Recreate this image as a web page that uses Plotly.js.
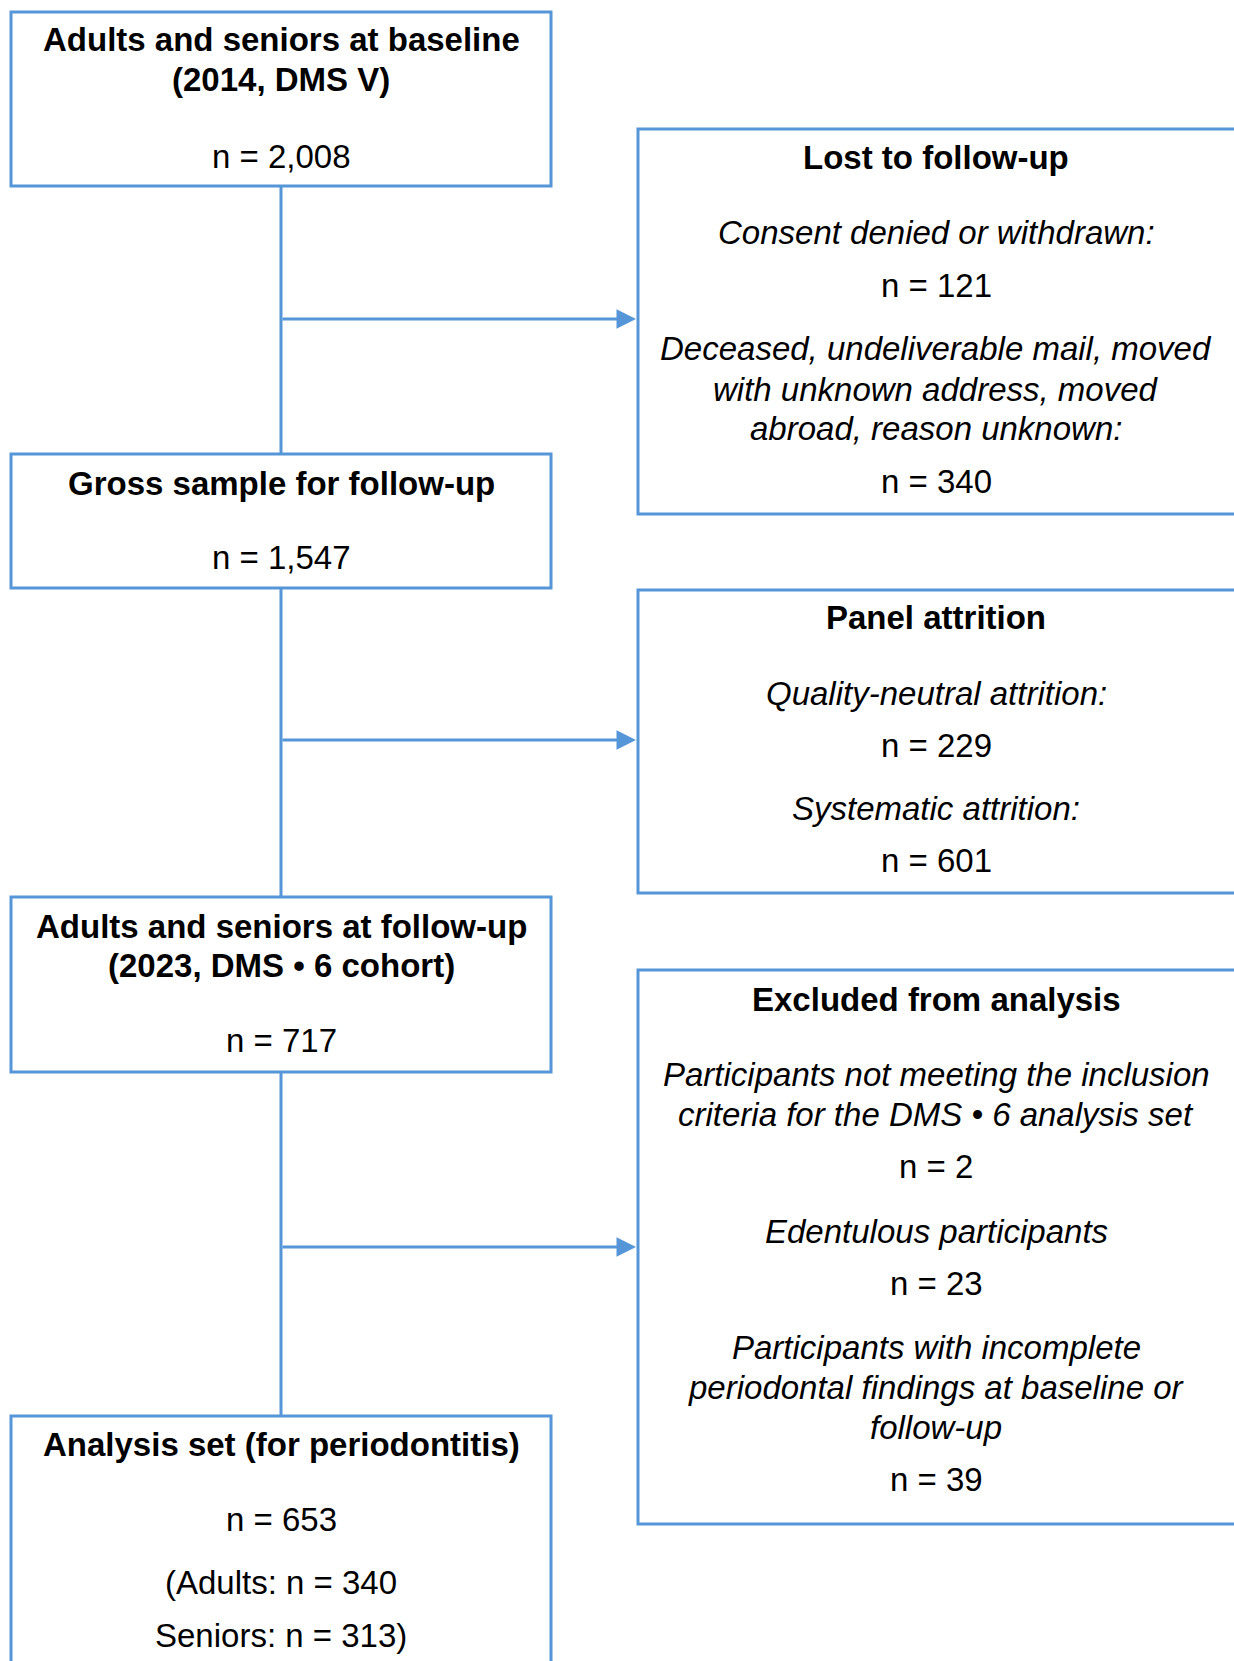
<!DOCTYPE html>
<html>
<head>
<meta charset="utf-8">
<script src="https://cdn.plot.ly/plotly-3.0.1.min.js"></script>
<style>
  html, body { margin: 0; padding: 0; background: #ffffff; }
  #chart { width: 1234px; height: 1661px; }
</style>
</head>
<body>
<div id="chart"></div>
<script>
// ---------- DATA ----------
const mainTitles = [
  "Adults and seniors at baseline|(2014, DMS V)",
  "Gross sample for follow-up",
  "Adults and seniors at follow-up|(2023, DMS • 6 cohort)",
  "Analysis set (for periodontitis)"
];
const mainCounts = [2008, 1547, 717, 653];
const subgroupLabels = ["Adults", "Seniors"];
const subgroupCounts = [340, 313];

const sideTitles = ["Lost to follow-up", "Panel attrition", "Excluded from analysis"];
const sideReasons = [
  ["Consent denied or withdrawn:",
   "Deceased, undeliverable mail, moved|with unknown address, moved|abroad, reason unknown:"],
  ["Quality-neutral attrition:",
   "Systematic attrition:"],
  ["Participants not meeting the inclusion|criteria for the DMS • 6 analysis set",
   "Edentulous participants",
   "Participants with incomplete|periodontal findings at baseline or|follow-up"]
];
const sideCounts = [[121, 340], [229, 601], [2, 23, 39]];

// ---------- LAYOUT (pixel geometry) ----------
const W = 1234, H = 1661;
const BLUE = "#5596D8";
const FONT = "Liberation Sans, Arial, sans-serif";
const FS = 33;
const DY = -0.75; // small vertical text offset

const mainBoxes = [
  {x0: 11, x1: 551, y0: 12, y1: 186, lines: [40, 80.5], nY: 157},
  {x0: 11, x1: 551, y0: 454, y1: 588, lines: [484], nY: 558},
  {x0: 11, x1: 551, y0: 897, y1: 1072, lines: [927, 966], nY: 1041},
  {x0: 11, x1: 551, y0: 1416, y1: 1680, lines: [1445], nY: 1520, subY: [1583, 1636]}
];
const sideBoxes = [
  {x0: 638, x1: 1250, y0: 129, y1: 514, titleY: 158, reasonY: [[233], [349.5, 390, 429]], nY: [286, 482], arrowY: 319},
  {x0: 638, x1: 1250, y0: 590, y1: 893, titleY: 618.6, reasonY: [[694], [809]], nY: [746, 861], arrowY: 740},
  {x0: 638, x1: 1250, y0: 970, y1: 1524, titleY: 1000, reasonY: [[1075, 1115], [1232], [1348, 1388, 1428]], nY: [1167, 1284, 1480], arrowY: 1247}
];
const spineX = 281;
const mainCx = 281, sideCx = 936;

const fmt = v => v.toLocaleString("en-US");
const shapes = [];
const annotations = [];

function txt(x, y, text, style) {
  let t = text;
  if (style === "b") t = "<b>" + text + "</b>";
  if (style === "i") t = "<i>" + text + "</i>";
  annotations.push({
    x: x, y: y + DY, xref: "x", yref: "y", text: t, showarrow: false,
    xanchor: "center", yanchor: "middle",
    font: {family: FONT, size: FS, color: "#000000"}
  });
}

// main boxes
mainTitles.forEach((title, i) => {
  const b = mainBoxes[i];
  shapes.push({type: "rect", xref: "x", yref: "y", x0: b.x0, x1: b.x1, y0: b.y0, y1: b.y1,
    line: {color: BLUE, width: 3}, fillcolor: "rgba(0,0,0,0)"});
  title.split("|").forEach((ln, k) => txt(mainCx, b.lines[k], ln, "b"));
  txt(mainCx, b.nY, "n = " + fmt(mainCounts[i]));
  if (b.subY) {
    txt(mainCx, b.subY[0], "(" + subgroupLabels[0] + ": n = " + fmt(subgroupCounts[0]));
    txt(mainCx, b.subY[1], subgroupLabels[1] + ": n = " + fmt(subgroupCounts[1]) + ")");
  }
  if (i < mainTitles.length - 1) {
    shapes.push({type: "line", xref: "x", yref: "y", x0: spineX, x1: spineX,
      y0: b.y1, y1: mainBoxes[i + 1].y0, line: {color: BLUE, width: 3}});
  }
});

// side boxes
sideTitles.forEach((title, i) => {
  const b = sideBoxes[i];
  shapes.push({type: "rect", xref: "x", yref: "y", x0: b.x0, x1: b.x1, y0: b.y0, y1: b.y1,
    line: {color: BLUE, width: 3}, fillcolor: "rgba(0,0,0,0)"});
  txt(sideCx, b.titleY, title, "b");
  sideReasons[i].forEach((r, j) => {
    r.split("|").forEach((ln, k) => txt(sideCx, b.reasonY[j][k], ln, "i"));
    txt(sideCx, b.nY[j], "n = " + fmt(sideCounts[i][j]));
  });
  annotations.push({
    x: b.x0 - 2, y: b.arrowY, ax: spineX, ay: b.arrowY,
    xref: "x", yref: "y", axref: "x", ayref: "y",
    text: "", showarrow: true, arrowhead: 2, arrowsize: 1.3, arrowwidth: 3,
    arrowcolor: BLUE, standoff: 0, startstandoff: 0
  });
});

const data = [{
  x: [0, W], y: [0, H], mode: "markers", type: "scatter",
  marker: {opacity: 0}, hoverinfo: "skip", showlegend: false
}];

const layout = {
  width: W, height: H,
  margin: {l: 0, r: 0, t: 0, b: 0, pad: 0},
  paper_bgcolor: "#ffffff", plot_bgcolor: "#ffffff",
  xaxis: {range: [0, W], visible: false, fixedrange: true},
  yaxis: {range: [H, 0], visible: false, fixedrange: true},
  shapes: shapes,
  annotations: annotations,
  showlegend: false
};

Plotly.newPlot("chart", data, layout, {staticPlot: true, displayModeBar: false});
</script>
</body>
</html>
